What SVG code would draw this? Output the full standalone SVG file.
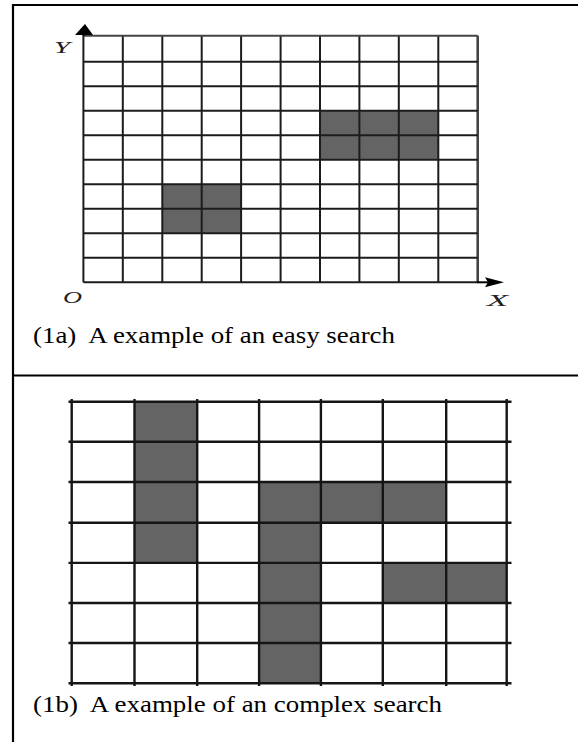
<svg xmlns="http://www.w3.org/2000/svg" width="578" height="742" viewBox="0 0 578 742">
<style>
.frame{stroke:#000;stroke-width:2.2;fill:none}
.g1{stroke:#1c1c1c;stroke-width:2;fill:none}
.g2{stroke:#151515;stroke-width:2.4;fill:none}
.sh{fill:#646464}
.cap{font-family:"Liberation Serif","Times New Roman",serif;font-size:24px;fill:#000;white-space:pre}
.ax{font-family:"Liberation Serif","Times New Roman",serif;font-style:italic;font-size:17px;fill:#222}
</style>
<rect width="578" height="742" fill="#fff"/>
<g id="frame">
<line class="frame" x1="12" y1="5" x2="578" y2="5"/>
<line class="frame" x1="13" y1="4" x2="13" y2="742"/>
<line class="frame" x1="12" y1="375.5" x2="578" y2="375.5"/>
</g>
<g id="grid-1a">
<rect class="sh" x="320.1" y="110.7" width="118.3" height="49.1"/>
<rect class="sh" x="162.3" y="184.3" width="78.9" height="49"/>
<g class="g1">
<line x1="83.4" y1="35.7" x2="83.4" y2="282.3"/>
<line x1="122.8" y1="35.7" x2="122.8" y2="282.3"/>
<line x1="162.3" y1="35.7" x2="162.3" y2="282.3"/>
<line x1="201.7" y1="35.7" x2="201.7" y2="282.3"/>
<line x1="241.1" y1="35.7" x2="241.1" y2="282.3"/>
<line x1="280.6" y1="35.7" x2="280.6" y2="282.3"/>
<line x1="320.0" y1="35.7" x2="320.0" y2="282.3"/>
<line x1="359.4" y1="35.7" x2="359.4" y2="282.3"/>
<line x1="398.8" y1="35.7" x2="398.8" y2="282.3"/>
<line x1="438.3" y1="35.7" x2="438.3" y2="282.3"/>
<line x1="477.7" y1="35.7" x2="477.7" y2="282.3" stroke="#444" stroke-width="2.6"/>
<line x1="83.4" y1="35.7" x2="477.7" y2="35.7" stroke="#444"/>
<line x1="83.4" y1="61.7" x2="477.7" y2="61.7"/>
<line x1="83.4" y1="86.2" x2="477.7" y2="86.2"/>
<line x1="83.4" y1="110.7" x2="477.7" y2="110.7"/>
<line x1="83.4" y1="135.2" x2="477.7" y2="135.2"/>
<line x1="83.4" y1="159.8" x2="477.7" y2="159.8"/>
<line x1="83.4" y1="184.3" x2="477.7" y2="184.3"/>
<line x1="83.4" y1="208.8" x2="477.7" y2="208.8"/>
<line x1="83.4" y1="233.3" x2="477.7" y2="233.3"/>
<line x1="83.4" y1="257.8" x2="477.7" y2="257.8"/>
<line x1="83.4" y1="282.3" x2="477.7" y2="282.3"/>
</g>
</g>
<g id="axes">
<line x1="83.4" y1="36" x2="83.4" y2="30" stroke="#000" stroke-width="2"/>
<polygon points="75,35 93,35 85,24" fill="#000"/>
<line x1="477" y1="282.3" x2="488" y2="282.3" stroke="#000" stroke-width="2"/>
<polygon points="485,277.3 504,282.3 485,287.3 488,282.3" fill="#000"/>
</g>
<g id="labels-1a">
<text class="ax" x="54" y="52.5" textLength="16" lengthAdjust="spacingAndGlyphs">Y</text>
<text class="ax" x="63" y="303" textLength="19" lengthAdjust="spacingAndGlyphs">O</text>
<text class="ax" x="487" y="306" textLength="21" lengthAdjust="spacingAndGlyphs">X</text>
<text class="cap" x="33" y="343" textLength="362" lengthAdjust="spacingAndGlyphs">(1a)  A example of an easy search</text>
</g>
<g id="grid-1b">
<rect class="sh" x="134.5" y="401.7" width="62.7" height="161.2"/>
<rect class="sh" x="259.1" y="482" width="61.8" height="201.3"/>
<rect class="sh" x="259.1" y="482" width="187.1" height="40.7"/>
<rect class="sh" x="382.8" y="562.9" width="123.9" height="40.1"/>
<g class="g2">
<line x1="71.7" y1="399" x2="71.7" y2="686"/>
<line x1="134.5" y1="399" x2="134.5" y2="686"/>
<line x1="197.2" y1="399" x2="197.2" y2="686"/>
<line x1="259.1" y1="399" x2="259.1" y2="686"/>
<line x1="320.9" y1="399" x2="320.9" y2="686"/>
<line x1="382.8" y1="399" x2="382.8" y2="686"/>
<line x1="446.2" y1="399" x2="446.2" y2="686"/>
<line x1="506.7" y1="399" x2="506.7" y2="686"/>
<line x1="68.5" y1="401.7" x2="511.5" y2="401.7"/>
<line x1="68.5" y1="441.7" x2="511.5" y2="441.7"/>
<line x1="68.5" y1="482" x2="511.5" y2="482"/>
<line x1="68.5" y1="522.7" x2="511.5" y2="522.7"/>
<line x1="68.5" y1="562.9" x2="511.5" y2="562.9"/>
<line x1="68.5" y1="603" x2="511.5" y2="603"/>
<line x1="68.5" y1="643" x2="511.5" y2="643"/>
<line x1="68.5" y1="683.3" x2="511.5" y2="683.3"/>
</g>
</g>
<g id="labels-1b">
<text class="cap" x="33" y="712" textLength="409" lengthAdjust="spacingAndGlyphs">(1b)  A example of an complex search</text>
</g>
</svg>
